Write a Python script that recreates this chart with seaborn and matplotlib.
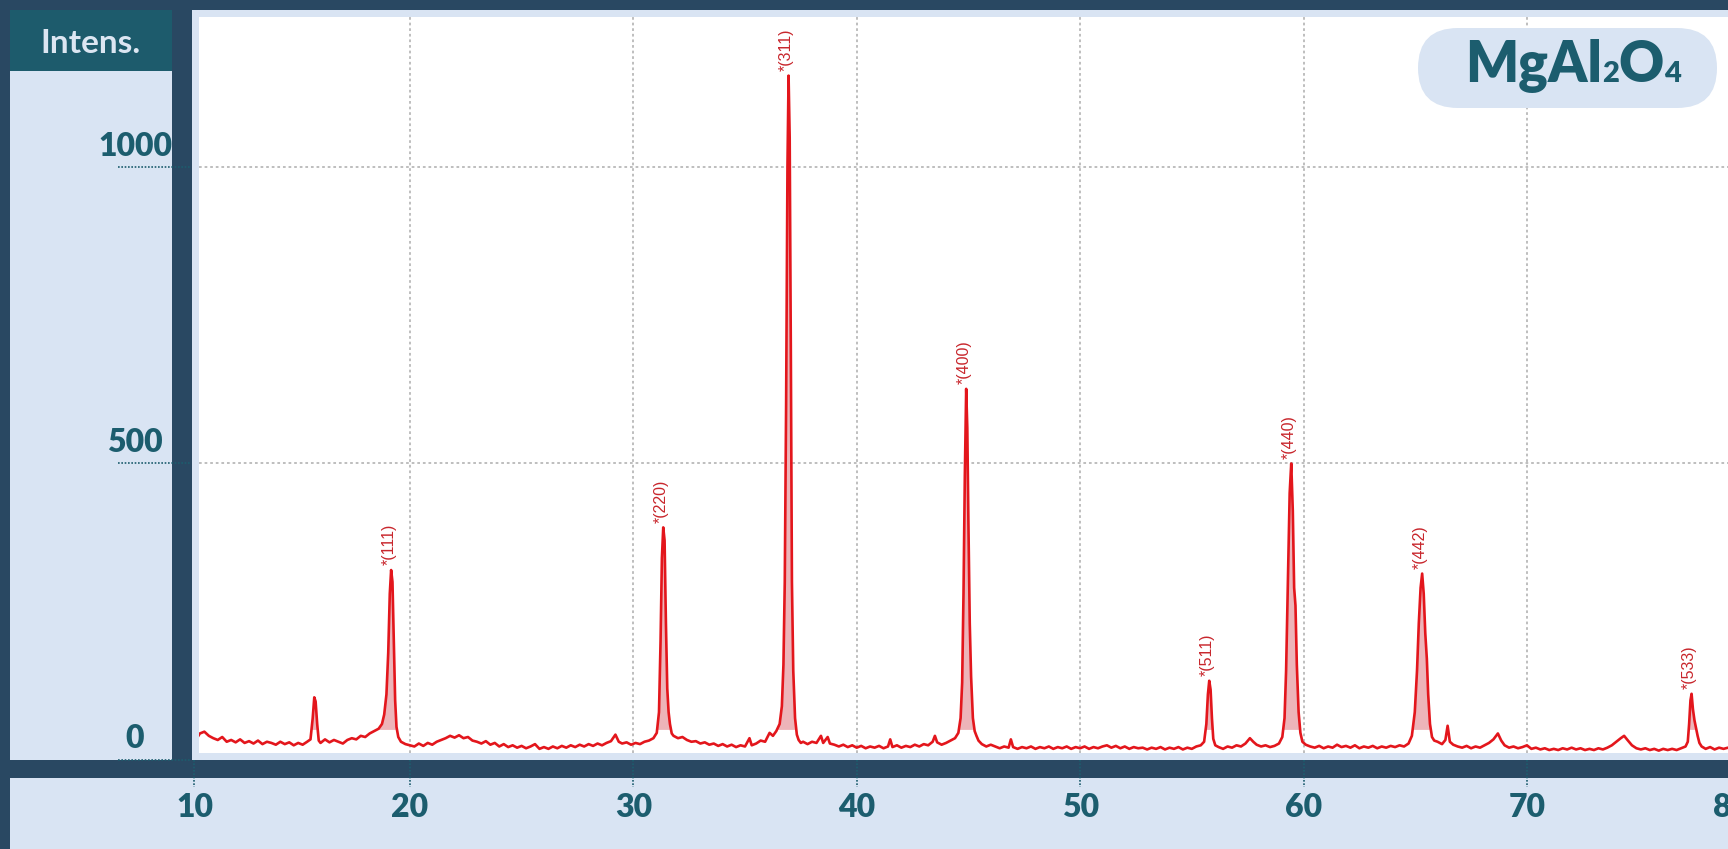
import numpy as np
import pandas as pd
import matplotlib
matplotlib.use("Agg")
import matplotlib.pyplot as plt
import matplotlib.transforms as mtransforms
from matplotlib.patches import Rectangle, FancyBboxPatch
from matplotlib.lines import Line2D
from matplotlib.offsetbox import TextArea, HPacker, AnnotationBbox
import seaborn as sns

# ---------------------------------------------------------------- data
# XRD scan of MgAl2O4 spinel: 2-theta (deg) and intensity (counts)
two_theta = [
    10.5, 10.6, 10.8, 11.0, 11.2, 11.4, 11.6, 11.8, 12.0, 12.2,
    12.4, 12.6, 12.8, 13.0, 13.2, 13.4, 13.6, 13.8, 14.0, 14.2,
    14.4, 14.6, 14.8, 15.0, 15.2, 15.4, 15.55, 15.65, 15.72, 15.78,
    15.85, 15.92, 16.0, 16.2, 16.4, 16.6, 16.8, 17.0, 17.2, 17.4,
    17.6, 17.8, 18.0, 18.2, 18.4, 18.6, 18.75, 18.85, 18.95, 19.03,
    19.10, 19.16, 19.22, 19.28, 19.34, 19.40, 19.48, 19.6, 19.8, 20.0,
    20.2, 20.4, 20.6, 20.8, 21.0, 21.2, 21.4, 21.6, 21.8, 22.0,
    22.2, 22.4, 22.6, 22.8, 23.0, 23.2, 23.4, 23.6, 23.8, 24.0,
    24.2, 24.4, 24.6, 24.8, 25.0, 25.2, 25.4, 25.6, 25.8, 26.0,
    26.2, 26.4, 26.6, 26.8, 27.0, 27.2, 27.4, 27.6, 27.8, 28.0,
    28.2, 28.4, 28.6, 28.8, 29.0, 29.2, 29.35, 29.5, 29.7, 29.9,
    30.1, 30.3, 30.5, 30.7, 30.9, 31.05, 31.15, 31.22, 31.28, 31.34,
    31.40, 31.46, 31.52, 31.58, 31.64, 31.72, 31.8, 32.0, 32.2, 32.4,
    32.6, 32.8, 33.0, 33.2, 33.4, 33.6, 33.8, 34.0, 34.2, 34.4,
    34.6, 34.8, 35.0, 35.2, 35.3, 35.5, 35.7, 35.9, 36.1, 36.25,
    36.4, 36.55, 36.65, 36.72, 36.78, 36.84, 36.90, 36.95, 37.00, 37.05,
    37.10, 37.16, 37.24, 37.32, 37.4, 37.5, 37.6, 37.8, 38.0, 38.2,
    38.4, 38.5, 38.7, 38.8, 39.0, 39.2, 39.4, 39.6, 39.8, 40.0,
    40.2, 40.4, 40.6, 40.8, 41.0, 41.2, 41.4, 41.5, 41.6, 41.8,
    42.0, 42.2, 42.4, 42.6, 42.8, 43.0, 43.2, 43.4, 43.5, 43.6,
    43.8, 44.0, 44.2, 44.4, 44.55, 44.65, 44.72, 44.78, 44.84, 44.90,
    44.95, 45.00, 45.06, 45.12, 45.2, 45.28, 45.36, 45.45, 45.6, 45.8,
    46.0, 46.2, 46.4, 46.6, 46.8, 46.9, 47.0, 47.2, 47.4, 47.6,
    47.8, 48.0, 48.2, 48.4, 48.6, 48.8, 49.0, 49.2, 49.4, 49.6,
    49.8, 50.0, 50.2, 50.4, 50.6, 50.8, 51.0, 51.2, 51.4, 51.6,
    51.8, 52.0, 52.2, 52.4, 52.6, 52.8, 53.0, 53.2, 53.4, 53.6,
    53.8, 54.0, 54.2, 54.4, 54.6, 54.8, 55.0, 55.2, 55.4, 55.55,
    55.65, 55.72, 55.78, 55.84, 55.90, 55.96, 56.05, 56.2, 56.4, 56.6,
    56.8, 57.0, 57.2, 57.4, 57.6, 57.75, 57.9, 58.1, 58.3, 58.5,
    58.7, 58.9, 59.05, 59.15, 59.22, 59.30, 59.38, 59.45, 59.52, 59.58,
    59.64, 59.70, 59.78, 59.86, 59.95, 60.1, 60.3, 60.5, 60.7, 60.9,
    61.1, 61.3, 61.5, 61.7, 61.9, 62.1, 62.3, 62.5, 62.7, 62.9,
    63.1, 63.3, 63.5, 63.7, 63.9, 64.1, 64.3, 64.5, 64.7, 64.85,
    64.98, 65.08, 65.16, 65.24, 65.31, 65.38, 65.45, 65.52, 65.58, 65.66,
    65.75, 65.85, 66.0, 66.2, 66.35, 66.45, 66.55, 66.7, 66.9, 67.1,
    67.3, 67.5, 67.7, 67.9, 68.1, 68.3, 68.5, 68.7, 68.85, 69.0,
    69.2, 69.4, 69.6, 69.8, 70.0, 70.2, 70.4, 70.6, 70.8, 71.0,
    71.2, 71.4, 71.6, 71.8, 72.0, 72.2, 72.4, 72.6, 72.8, 73.0,
    73.2, 73.4, 73.6, 73.8, 74.0, 74.2, 74.35, 74.5, 74.7, 74.9,
    75.1, 75.3, 75.5, 75.7, 75.9, 76.1, 76.3, 76.5, 76.7, 76.9,
    77.1, 77.2, 77.26, 77.32, 77.37, 77.43, 77.50, 77.56, 77.64, 77.72,
    77.82, 78.0, 78.2, 78.4, 78.6, 78.8, 79.0,
]
counts = [
    38, 44, 47, 40, 36, 33, 38, 30, 33, 29,
    34, 28, 31, 27, 32, 26, 30, 28, 25, 30,
    26, 29, 24, 28, 25, 30, 34, 70, 105, 98,
    60, 32, 28, 34, 29, 33, 30, 27, 33, 36,
    34, 40, 38, 44, 48, 52, 60, 76, 110, 180,
    280, 320, 300, 200, 100, 55, 38, 30, 26, 24,
    22, 27, 23, 28, 25, 30, 33, 36, 40, 37,
    41, 36, 38, 32, 30, 27, 31, 25, 28, 22,
    26, 21, 24, 20, 23, 19, 22, 26, 18, 21,
    18, 22, 19, 23, 20, 24, 21, 25, 22, 26,
    23, 27, 24, 28, 31, 42, 30, 27, 29, 25,
    28, 26, 30, 32, 36, 45, 80, 200, 340, 392,
    370, 230, 120, 80, 60, 44, 40, 36, 38, 33,
    30, 31, 27, 29, 25, 27, 23, 26, 22, 25,
    21, 24, 22, 36, 24, 27, 32, 30, 45, 40,
    48, 60, 90, 160, 300, 600, 1000, 1155, 1050, 700,
    300, 150, 70, 42, 33, 28, 30, 26, 30, 28,
    40, 28, 38, 27, 25, 22, 25, 21, 24, 20,
    23, 19, 22, 20, 23, 19, 22, 34, 21, 24,
    20, 23, 21, 25, 22, 26, 24, 30, 40, 29,
    25, 28, 32, 36, 45, 70, 130, 280, 480, 626,
    560, 400, 230, 140, 70, 48, 40, 32, 26, 22,
    25, 22, 19, 22, 20, 34, 21, 18, 21, 19,
    22, 18, 21, 19, 22, 18, 21, 19, 22, 18,
    21, 19, 22, 18, 21, 19, 22, 24, 20, 23,
    19, 22, 18, 21, 19, 20, 17, 20, 18, 21,
    17, 20, 18, 21, 17, 20, 18, 22, 24, 30,
    60, 110, 133, 118, 70, 35, 24, 21, 18, 22,
    20, 24, 22, 27, 36, 30, 25, 22, 24, 21,
    23, 27, 38, 70, 150, 300, 450, 500, 420, 290,
    260, 160, 80, 45, 30, 25, 22, 20, 23, 19,
    22, 20, 25, 21, 23, 20, 24, 19, 22, 20,
    23, 19, 22, 20, 23, 21, 24, 22, 27, 40,
    80, 150, 230, 290, 314, 280, 213, 170, 110, 60,
    38, 32, 30, 26, 33, 57, 30, 25, 22, 20,
    23, 19, 22, 20, 24, 28, 34, 44, 32, 24,
    20, 22, 19, 21, 24, 18, 20, 17, 19, 16,
    18, 16, 19, 17, 20, 17, 19, 16, 18, 16,
    19, 17, 20, 24, 30, 36, 40, 33, 24, 19,
    17, 19, 16, 18, 15, 18, 16, 18, 16, 19,
    22, 30, 60, 100, 111, 85, 66, 55, 40, 28,
    22, 18, 21, 17, 20, 18, 20,
]

# indexed reflections (Miller indices) and their 2-theta positions
peak_hkl = ["111", "220", "311", "400", "511", "440", "442", "533"]
peak_2theta = [19.16, 31.34, 36.95, 44.90, 55.78, 59.45, 65.31, 77.37]

x_ticks = [10, 20, 30, 40, 50, 60, 70, 80]
y_ticks = [0, 500, 1000]
y_grid = [500, 1000]
x_grid = [20, 30, 40, 50, 60, 70]

# ---------------------------------------------------------------- style
NAVY = "#294862"
PANEL = "#D9E4F3"
HEADER = "#1D5B6C"
TEAL = "#1C5D6E"
TRACE = "#E3161C"
PEAK_FILL = "#EDB4B9"
LABEL_RED = "#C8262C"

# the outermost 2-theta labels sit pulled in toward the plot edges (pixels)
EDGE_NUDGE = {10: 8, 80: -19}

W, H = 1728, 849
sns.set_theme(style="white")
plt.rcParams["font.family"] = ["Lato", "DejaVu Sans"]

fig = plt.figure(figsize=(W / 100, H / 100), dpi=100, facecolor=NAVY)


def px_rect(x0, y0, x1, y1):
    """Figure-fraction rectangle from pixel edges measured from the top-left."""
    return [x0 / W, 1 - y1 / H, (x1 - x0) / W, (y1 - y0) / H]


def add_panel(x0, y0, x1, y1, color):
    l, b, w, h = px_rect(x0, y0, x1, y1)
    fig.add_artist(Rectangle((l, b), w, h, transform=fig.transFigure,
                             facecolor=color, edgecolor="none", zorder=-5))


# background panels
add_panel(10, 10, 171.5, 760, PANEL)        # intensity label column
add_panel(10, 10, 171.5, 71, HEADER)        # "Intens." header
add_panel(191.5, 9.5, W, 760, PANEL)        # frame around the plot
add_panel(10, 778, W, H, PANEL)             # 2-theta label strip

fig.text(90 / W, 1 - 53 / H, "Intens.", ha="center", va="baseline",
         fontsize=24, fontweight="bold", color="#DCE6F2")

# ---------------------------------------------------------------- plot
ax = fig.add_axes(px_rect(199, 17, W, 753))
ax.set_facecolor("white")
for s in ax.spines.values():
    s.set_visible(False)

df = pd.DataFrame({"two_theta": two_theta, "counts": counts})
x = np.asarray(two_theta, dtype=float)
y = np.asarray(counts, dtype=float)
ax.fill_between(x, y, 50, where=y > 50, interpolate=True,
                color=PEAK_FILL, linewidth=0, zorder=2)
sns.lineplot(data=df, x="two_theta", y="counts", ax=ax, color=TRACE,
             linewidth=1.9, estimator=None, sort=False, legend=False, zorder=3)

ax.set_xlim(10.56, 79.0)
ax.set_ylim(11, 1254)
ax.set_xticks(x_grid)
ax.set_yticks(y_grid)
ax.grid(True, color="#B9B9B9", linestyle=(0, (1.5, 1.6)), linewidth=1.3)
ax.tick_params(labelbottom=False, labelleft=False, length=0)
ax.set_xlabel("")
ax.set_ylabel("")

# peak labels
for hkl, pos in zip(peak_hkl, peak_2theta):
    top = np.interp(pos, x, y)
    ax.annotate(f"*({hkl})", xy=(pos, top), xytext=(-1.5, 3.5),
                textcoords="offset points", rotation=90, ha="center",
                va="bottom", fontsize=11.5, color=LABEL_RED,
                family=["Liberation Sans", "DejaVu Sans"], zorder=4)

# intensity ticks in the left column
blend_y = mtransforms.blended_transform_factory(fig.transFigure, ax.transData)
for v in y_ticks:
    ax.add_artist(Line2D([118 / W, 191 / W], [v, v], transform=blend_y,
                         color=TEAL, linewidth=1.2, linestyle=(0, (1, 1)),
                         clip_on=False))
    ax.annotate(f"{v}", xy=(135 / W, v), xycoords=blend_y, xytext=(0, 8),
                textcoords="offset points", ha="center", va="baseline",
                fontsize=23, fontweight="heavy", color=TEAL,
                annotation_clip=False)

# 2-theta ticks in the bottom strip
blend_x = mtransforms.blended_transform_factory(ax.transData, fig.transFigure)
for v in x_ticks:
    dx = EDGE_NUDGE.get(v, 0)
    shift = mtransforms.ScaledTranslation(dx / 100, 0, fig.dpi_scale_trans)
    ax.add_artist(Line2D([v, v], [1 - 760 / H, 1 - 787 / H],
                         transform=blend_x + shift,
                         color=TEAL, linewidth=1.2, linestyle=(0, (1, 1)),
                         clip_on=False))
    ax.annotate(f"{v}", xy=(v, 1 - 817 / H), xycoords=blend_x,
                xytext=(dx * 0.72, 0), textcoords="offset points",
                ha="center", va="baseline", fontsize=23, fontweight="heavy",
                color=TEAL, annotation_clip=False)

# formula badge
fig.add_artist(FancyBboxPatch((1418 / 100, (H - 108) / 100), 2.99, 0.80,
                              boxstyle="round,pad=0,rounding_size=0.40",
                              transform=fig.dpi_scale_trans,
                              facecolor=PANEL, edgecolor="none", zorder=5))
big = dict(fontsize=40, fontweight="heavy", color=TEAL)
small = dict(fontsize=21, fontweight="heavy", color=TEAL)
formula = HPacker(children=[TextArea("MgAl", textprops=big),
                            TextArea("2", textprops=small),
                            TextArea("O", textprops=big),
                            TextArea("4", textprops=small)],
                  align="baseline", pad=0, sep=0)
badge = AnnotationBbox(formula, (1573 / W, 1 - 66 / H), xycoords="figure fraction",
                       box_alignment=(0.5, 0.5), frameon=False, zorder=6)
fig.add_artist(badge)

fig.savefig("out.png", dpi=100, facecolor=fig.get_facecolor())
